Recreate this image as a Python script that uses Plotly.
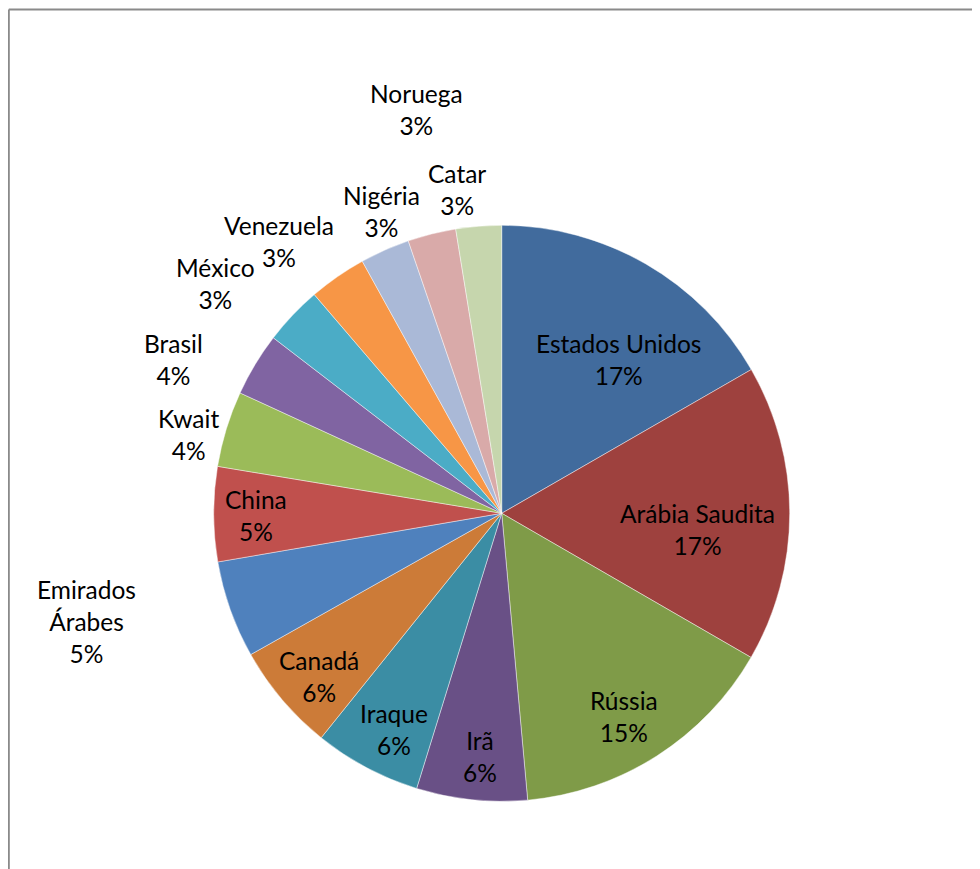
import plotly.graph_objects as go

W, H = 980, 869
OFF = 8  # page body margin offset of the browser

countries = ["Estados Unidos", "Arábia Saudita", "Rússia", "Irã", "Iraque", "Canadá",
             "Emirados<br>Árabes", "China", "Kwait", "Brasil", "México", "Venezuela",
             "Nigéria", "Catar", "Noruega"]
shares = [16.66, 16.63, 15.2, 6.2, 6.0, 6.05, 5.45, 5.3, 4.25, 3.56, 3.29, 3.23, 2.78, 2.7, 2.55]
pct_labels = ["17%", "17%", "15%", "6%", "6%", "6%", "5%", "5%", "4%", "4%", "3%", "3%", "3%", "3%", "3%"]

colors = ["#416B9D", "#9E413E", "#7F9B48", "#695086", "#3B8DA4", "#CC7B38",
          "#4F81BD", "#C0504D", "#9BBB59", "#8064A2", "#4BACC6", "#F79646",
          "#AAB9D7", "#D9AAA9", "#C6D6AD"]

# label anchor positions (screen pixels, centre of text block)
label_pos = [(618, 359), (697, 529), (624, 716), (480, 756), (394, 729), (319, 676),
             (86, 621), (256, 515), (188, 434), (173, 359), (215, 283), (279, 242),
             (381, 211), (457, 189), (416, 109)]

cx, cy, r = 501.7 - OFF, 513.3 - OFF, 288

fig = go.Figure(go.Pie(
    labels=[c.replace("<br>", " ") for c in countries],
    values=shares,
    sort=False,
    direction="clockwise",
    rotation=0,
    textinfo="none",
    hoverinfo="label+percent",
    marker=dict(colors=colors, line=dict(color="rgba(255,255,255,0.55)", width=0.8)),
    domain=dict(x=[(cx - r) / W, (cx + r) / W], y=[(H - cy - r) / H, (H - cy + r) / H]),
    showlegend=False,
))

for name, pct, (px, py) in zip(countries, pct_labels, label_pos):
    fig.add_annotation(
        x=(px - OFF) / W, y=1 - (py - OFF) / H, xref="paper", yref="paper",
        text=f"{name}<br>{pct}", showarrow=False,
        xanchor="center", yanchor="middle",
        font=dict(family="Lato, Open Sans, sans-serif", size=24.5, color="#000000"),
    )

# outer chart-area frame (top and left edges visible)
fx, fy = 8.8 - OFF, 9.6 - OFF
fig.add_shape(type="line", xref="paper", yref="paper",
              x0=fx / W, x1=1, y0=1 - fy / H, y1=1 - fy / H,
              line=dict(color="#8a8a8a", width=2))
fig.add_shape(type="line", xref="paper", yref="paper",
              x0=fx / W, x1=fx / W, y0=0, y1=1 - fy / H,
              line=dict(color="#8a8a8a", width=2))

fig.update_layout(
    width=W, height=H,
    margin=dict(l=0, r=0, t=0, b=0),
    paper_bgcolor="white", plot_bgcolor="white",
)

fig.write_html("out.html")
